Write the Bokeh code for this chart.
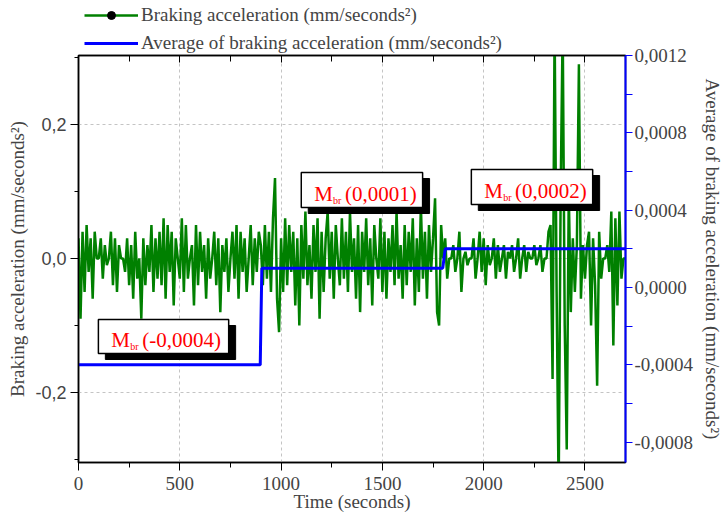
from bokeh.plotting import figure
from bokeh.layouts import column
from bokeh.models import (Range1d, LinearAxis, FixedTicker, CustomJSTickFormatter, Legend,
                          LegendItem, BoxAnnotation, Label, ColumnDataSource)
from bokeh.embed import file_html
from bokeh.resources import INLINE

# ---------------- data ----------------
time_step = 10
braking_acc = [
    # 0 - 890 s
    0.03, -0.09, 0.04, -0.05, 0.05, -0.02, 0.03, -0.06, 0.04, 0.0,
    0.0, 0.03, -0.03, 0.02, -0.01, 0.0, 0.04, -0.04, 0.03, -0.05,
    0.02, 0.0, 0.0, -0.02, 0.03, -0.04, 0.02, -0.06, 0.04, -0.03,
    0.0, -0.09, 0.03, -0.04, 0.02, -0.02, 0.05, -0.05, 0.03, -0.03,
    0.04, -0.04, 0.06, -0.06, 0.05, -0.02, 0.04, -0.07, 0.03, 0.0,
    -0.03, 0.06, -0.05, 0.05, -0.03, 0.0, 0.02, -0.07, 0.05, -0.04,
    0.04, -0.02, 0.02, -0.06, 0.03, -0.03, 0.0, 0.04, -0.04, 0.03,
    -0.08, 0.02, -0.02, 0.03, -0.05, 0.0, 0.04, -0.03, 0.05, -0.06,
    0.04, -0.02, 0.03, -0.05, 0.0, 0.05, -0.04, 0.03, -0.02, 0.04,
    # 900 - 1790 s
    0.02, -0.04, 0.05, -0.03, 0.04, -0.05, 0.06, 0.12, -0.06, -0.11,
    0.03, -0.05, 0.06, -0.04, 0.05, -0.02, 0.04, -0.07, 0.03, -0.10,
    0.05, -0.03, 0.07, -0.04, 0.02, -0.06, 0.05, -0.02, 0.06, -0.09,
    0.04, -0.05, 0.03, 0.07, -0.03, 0.04, -0.06, 0.05, 0.0, -0.04,
    0.06, -0.03, 0.04, -0.05, 0.07, -0.02, 0.03, -0.06, 0.05, -0.08,
    0.04, -0.02, 0.06, -0.04, 0.03, -0.07, 0.05, 0.0, -0.03, 0.06,
    -0.05, 0.04, -0.06, 0.03, -0.02, 0.05, -0.04, 0.07, -0.03, 0.02,
    -0.06, 0.05, -0.04, 0.04, -0.02, 0.06, -0.07, 0.03, -0.05, 0.08,
    -0.03, 0.04, -0.06, 0.05, -0.02, 0.03, 0.09, -0.08, -0.10, 0.05,
    # 1800 - 2700 s
    0.0, 0.03, -0.03, 0.0, 0.0, 0.02, -0.02, 0.0, 0.04, -0.05,
    0.0, 0.01, -0.01, 0.0, 0.0, 0.03, -0.03, 0.0, 0.04, -0.02,
    0.03, -0.04, 0.02, -0.01, 0.0, 0.03, -0.03, 0.02, -0.02, 0.0,
    0.02, -0.03, 0.01, 0.0, 0.02, -0.02, 0.0, 0.03, -0.03, 0.0,
    0.02, -0.02, 0.01, 0.0, 0.0, 0.02, -0.01, 0.0, 0.02, -0.02,
    0.0, 0.0, 0.04, 0.05, -0.18, 0.35, -0.05, -0.35, 0.1, 0.35,
    -0.1, -0.285, 0.1, -0.08, 0.03, -0.05, 0.02, 0.29, -0.06, 0.02,
    -0.03, 0.02, 0.04, -0.1, 0.03, -0.04, -0.19, 0.04, -0.03, 0.0,
    0.0, 0.02, -0.02, 0.07, -0.13, 0.06, -0.07, 0.07, -0.03, 0.0,
    0.0,
]
time_s = [i * time_step for i in range(len(braking_acc))]

avg_time = [0, 897, 905, 1798, 1810, 2700]
avg_acc = [-0.0004, -0.0004, 0.0001, 0.0001, 0.0002, 0.0002]

x_ticks = [0, 500, 1000, 1500, 2000, 2500]
x_minor = [250, 750, 1250, 1750, 2250]
left_ticks = [-0.2, 0.0, 0.2]
left_minor = [-0.3, -0.1, 0.1, 0.3]
right_ticks = [-0.0008, -0.0004, 0.0, 0.0004, 0.0008, 0.0012]
right_minor = [-0.0006, -0.0002, 0.0002, 0.0006, 0.0010]

annotations = [("(-0,0004)", 98, 229, 319, 353),
               ("(0,0001)", 302, 424, 172, 207),
               ("(0,0002)", 473, 595, 169, 204)]

legend_labels = ["Braking acceleration (mm/seconds²)",
                 "Average of braking acceleration (mm/seconds²)"]

# ---------------- layout helpers (pixel -> data, for annotation placement) ----------------
W, H = 726, 514
LEG_H = 56          # legend strip height
OVERLAP = 13        # main chart starts this many px above the legend strip's bottom
FX0, FX1, FY0, FY1 = 78, 628, 55, 462
XR = (0, 2700)
YR = (-0.3045, 0.303)
YR2 = (-0.000905, 0.0012)

def px_x(px):
    return XR[0] + (px - FX0) / (FX1 - FX0) * (XR[1] - XR[0])

def px_y(py):
    return YR[1] - (py - FY0) / (FY1 - FY0) * (YR[1] - YR[0])

SERIF = "Liberation Serif"
GREEN = "#008000"
BLUE = "#0000ff"

main_top = LEG_H - OVERLAP
p = figure(width=W, height=H - main_top, output_backend="svg", toolbar_location=None,
           x_range=Range1d(*XR), y_range=Range1d(*YR),
           min_border_left=FX0, min_border_right=W - FX1,
           min_border_top=FY0 - main_top, min_border_bottom=H - FY1)
p.extra_y_ranges = {"avg": Range1d(*YR2)}
p.background_fill_color = "white"
p.border_fill_color = None
p.outline_line_color = "black"
p.outline_line_width = 1.5

# grid
for g in (p.xgrid[0], p.ygrid[0]):
    g.grid_line_color = "#c4c4c4"
    g.grid_line_dash = "3 3"
    g.grid_line_width = 1
p.xgrid[0].ticker = FixedTicker(ticks=x_ticks)
p.ygrid[0].ticker = FixedTicker(ticks=left_ticks)

# bottom axis
xa = p.xaxis[0]
xa.ticker = FixedTicker(ticks=x_ticks, minor_ticks=x_minor)
xa.axis_label = "Time (seconds)"
xa.axis_label_text_font = SERIF
xa.axis_label_text_font_size = "19px"
xa.axis_label_text_font_style = "normal"
xa.axis_label_standoff = -2
xa.major_label_text_font = SERIF
xa.major_label_text_font_size = "19px"
xa.major_label_standoff = 6
xa.major_tick_in = 0
xa.major_tick_out = 8
xa.minor_tick_in = 0
xa.minor_tick_out = 5
xa.axis_line_width = 1.5

# top axis (ticks only)
ta = LinearAxis(ticker=FixedTicker(ticks=x_ticks, minor_ticks=x_minor),
                formatter=CustomJSTickFormatter(code="return '';"),
                major_tick_in=7, major_tick_out=0,
                minor_tick_in=6, minor_tick_out=0, axis_line_width=1.5,
                major_label_standoff=0, major_label_text_font_size="1px")
p.add_layout(ta, "above")

# left axis
ya = p.yaxis[0]
ya.ticker = FixedTicker(ticks=left_ticks, minor_ticks=left_minor)
ya.formatter = CustomJSTickFormatter(code="""
    const v = Math.abs(tick) < 1e-9 ? 0 : tick;
    return v.toFixed(1).replace('.', ',');
""")
ya.axis_label = "Braking acceleration (mm/seconds²)"
ya.axis_label_text_font = SERIF
ya.axis_label_text_font_size = "19px"
ya.axis_label_text_font_style = "normal"
ya.axis_label_standoff = 4
ya.major_label_text_font = "Liberation Sans"
ya.major_label_text_font_size = "18px"
ya.major_label_standoff = 4
ya.major_tick_in = 0
ya.major_tick_out = 8
ya.minor_tick_in = 0
ya.minor_tick_out = 4
ya.axis_line_width = 1.5

# right axis
ra = LinearAxis(y_range_name="avg",
                ticker=FixedTicker(ticks=right_ticks, minor_ticks=right_minor))
ra.formatter = CustomJSTickFormatter(code="""
    const v = Math.abs(tick) < 1e-12 ? 0 : tick;
    return v.toFixed(4).replace('.', ',');
""")
ra.axis_label = "Average of braking acceleration (mm/seconds²)"
ra.axis_label_text_font = SERIF
ra.axis_label_text_font_size = "19px"
ra.axis_label_text_font_style = "normal"
ra.axis_label_standoff = 6
ra.major_label_text_font = SERIF
ra.major_label_text_font_size = "19px"
ra.major_label_standoff = 2
ra.axis_line_color = BLUE
ra.axis_line_width = 2
ra.major_tick_line_color = BLUE
ra.minor_tick_line_color = BLUE
ra.major_tick_in = 0
ra.major_tick_out = 7
ra.minor_tick_in = 0
ra.minor_tick_out = 7
p.add_layout(ra, "right")

# data
src = ColumnDataSource(dict(t=time_s, acc=braking_acc))
avg_src = ColumnDataSource(dict(t=avg_time, avg=avg_acc))
green_r = p.line("t", "acc", source=src, line_color=GREEN, line_width=2.5)
blue_r = p.line("t", "avg", source=avg_src, y_range_name="avg",
                line_color=BLUE, line_width=3)

# annotation boxes
for text, l, r, t, b in annotations:
    p.add_layout(BoxAnnotation(left=px_x(l + 7), right=px_x(r + 7), top=px_y(t + 6), bottom=px_y(b + 6),
                               fill_color="black", fill_alpha=1, line_color="black", line_alpha=1,
                               level="annotation"))
    p.add_layout(BoxAnnotation(left=px_x(l), right=px_x(r), top=px_y(t), bottom=px_y(b),
                               fill_color="white", fill_alpha=1, line_color="black", line_alpha=1,
                               line_width=1.5, level="annotation"))
    base = b - 14
    p.add_layout(Label(x=px_x(l + 13), y=px_y(base), text="M", text_color="red",
                       text_font=SERIF, text_font_size="21px", text_baseline="alphabetic"))
    p.add_layout(Label(x=px_x(l + 32), y=px_y(base + 7), text="br", text_color="red",
                       text_font=SERIF, text_font_size="10px", text_baseline="alphabetic"))
    p.add_layout(Label(x=px_x(l + 44), y=px_y(base), text=text, text_color="red",
                       text_font=SERIF, text_font_size="21px", text_baseline="alphabetic"))

# legend strip above the chart (its ranges exclude all data; only the legend shows)
lf = figure(width=W, height=LEG_H, output_backend="svg", toolbar_location=None,
            x_range=Range1d(-20, -10), y_range=Range1d(5, 6),
            x_axis_location=None, y_axis_location=None, min_border=0)
lf.outline_line_color = None
lf.grid.visible = False
lf.margin = (0, 0, -OVERLAP, 0)
lg_green = lf.line("t", "acc", source=src, line_color=GREEN, line_width=2.5)
lg_dot = lf.scatter("t", "acc", source=src, marker="circle", size=2, color="black")
lg_blue = lf.line("t", "avg", source=avg_src, line_color=BLUE, line_width=3)
legend = Legend(items=[
    LegendItem(label=legend_labels[0], renderers=[lg_green, lg_dot]),
    LegendItem(label=legend_labels[1], renderers=[lg_blue]),
], location=(84 - FX0, 2), orientation="vertical", border_line_alpha=0, background_fill_alpha=0,
    padding=0, margin=0, spacing=6, glyph_width=54, glyph_height=20, label_height=20,
    label_standoff=3, label_text_font=SERIF, label_text_font_size="19px")
lf.add_layout(legend)

layout = column(lf, p, spacing=0)
open("out.html", "w").write(file_html(layout, INLINE))
